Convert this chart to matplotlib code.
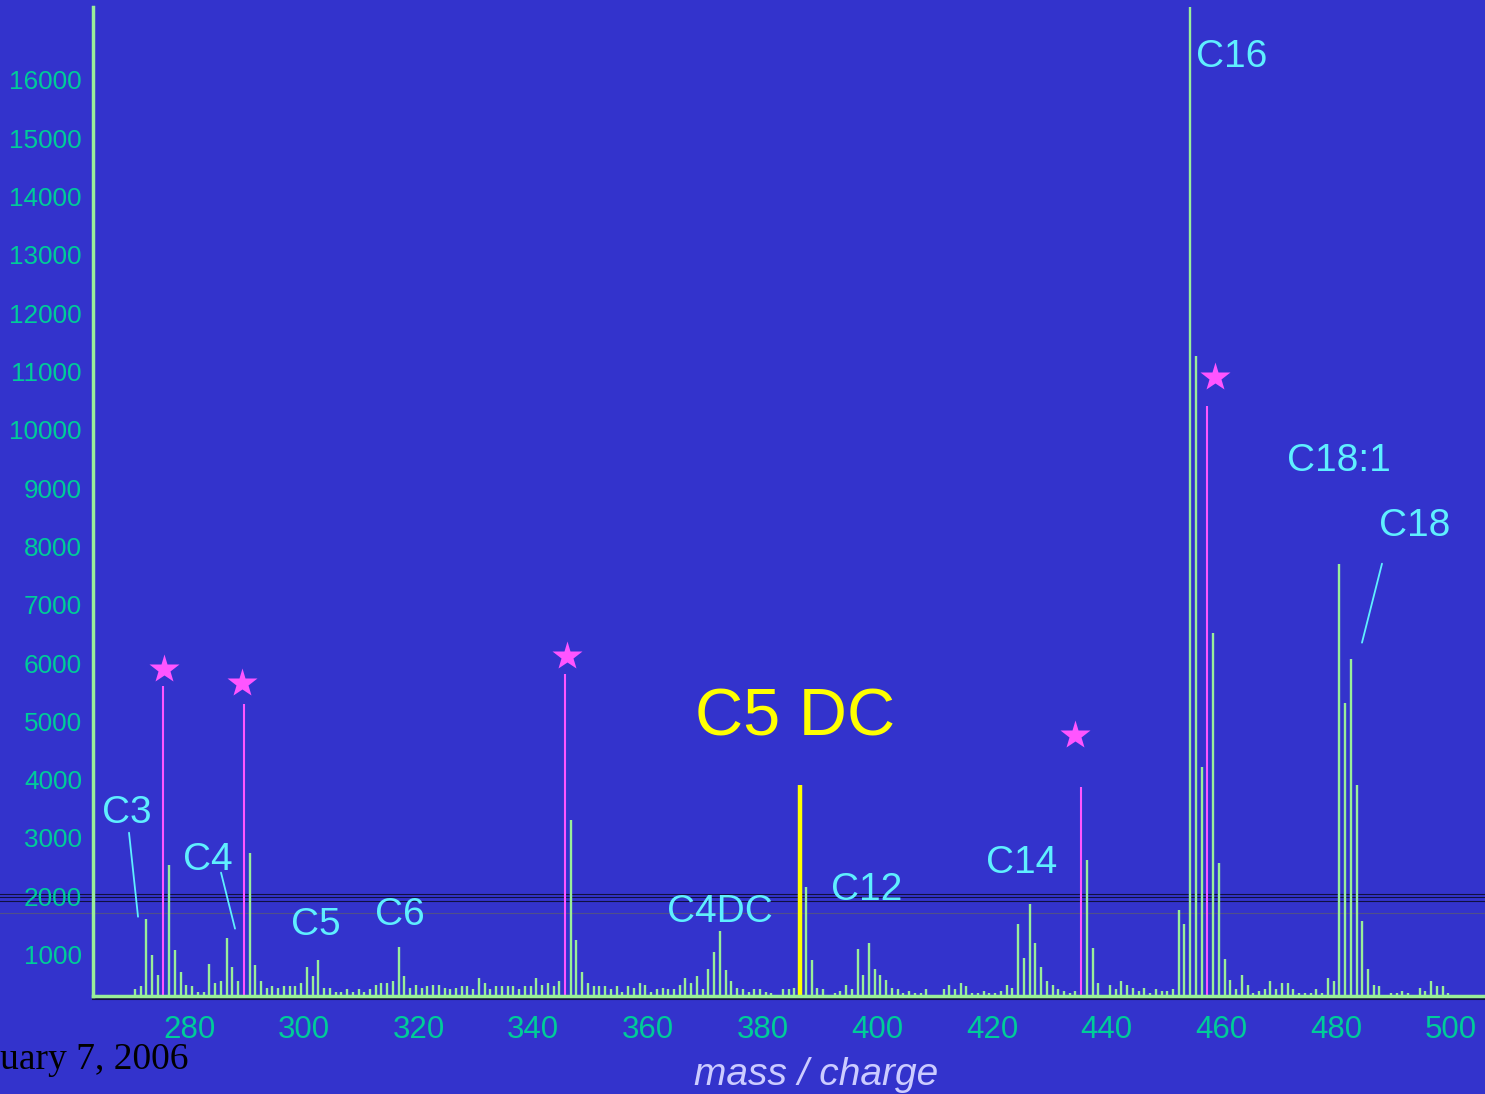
import numpy as np
import matplotlib
matplotlib.use("Agg")
import matplotlib.pyplot as plt
from matplotlib.lines import Line2D

# nominal masses, one peak per unit from 270 to 499
masses = np.arange(270, 500)
intensity = [
    415, 460, 1603, 986, 650, 5614, 2545, 1077, 706, 483,      # 270-279
    460, 363, 363, 843, 511, 540, 1289, 792, 540, 5305,        # 280-289
    2751, 820, 540, 432, 460, 432, 460, 460, 460, 511,         # 290-299
    792, 626, 900, 432, 432, 363, 363, 403, 363, 403,          # 300-309
    363, 403, 483, 511, 511, 540, 1123, 626, 432, 483,         # 310-319
    432, 460, 483, 483, 432, 403, 432, 460, 460, 403,          # 320-329
    597, 511, 403, 460, 460, 460, 460, 403, 460, 460,          # 330-339
    597, 483, 511, 460, 540, 5820, 3300, 1255, 706, 511,       # 340-349
    460, 460, 460, 403, 460, 363, 460, 432, 511, 483,          # 350-359
    363, 403, 432, 403, 403, 483, 597, 511, 626, 403,          # 360-369
    751, 1037, 1397, 734, 540, 432, 403, 363, 403, 403,        # 370-379
    363, 346, 305, 409, 403, 432, 3900, 2160, 900, 432,        # 380-389
    403, 305, 346, 380, 483, 403, 1094, 648, 1203, 751,        # 390-399
    648, 569, 432, 403, 346, 380, 346, 346, 403, 305,          # 400-409
    305, 403, 483, 403, 511, 460, 346, 346, 380, 346,          # 410-419
    346, 380, 483, 432, 1523, 951, 1871, 1203, 785, 540,       # 420-429
    483, 403, 380, 346, 380, 3880, 2631, 1117, 511, 305,       # 430-439
    483, 403, 540, 483, 432, 380, 432, 346, 403, 380,          # 440-449
    380, 403, 1763, 1523, 17500, 11270, 4225, 10400, 6520, 2563,  # 450-459
    929, 569, 403, 648, 483, 346, 380, 403, 540, 403,          # 460-469
    511, 511, 403, 346, 346, 346, 403, 346, 597, 540,          # 470-479
    7705, 5322, 6077, 3917, 1574, 751, 483, 460, 305, 346,     # 480-489
    346, 380, 346, 305, 432, 380, 540, 460, 460, 346,          # 490-499
]
mass_shift = 0.55          # measured mass sits about half a unit above nominal
standards = [275, 289, 345, 435, 457]   # internal standards (starred)
highlight = [386]                        # C5 DC

labels = ["C3", "C4", "C5", "C6", "C4DC", "C12", "C14", "C16", "C18:1", "C18"]
label_x = [264.9, 279.0, 297.7, 312.5, 363.4, 392.0, 419.0, 455.5, 471.35, 487.4]
label_y = [3250, 2445, 1330, 1500, 1555, 1930, 2395, 16210, 9285, 8170]

star_x = [275.64, 289.24, 345.90, 434.46, 458.87]
star_y = [5902, 5662, 6125, 4771, 10908]

bg = "#3333CC"
green = "#99EE99"
tickc = "#00CC99"
cyan = "#5FEFFF"
magenta = "#FF55FF"
yellow = "#FFFF00"

fig = plt.figure(figsize=(14.85, 10.94), dpi=100, facecolor=bg)
ax = fig.add_axes([93 / 1485, 98 / 1094, 1390 / 1485, 989 / 1094])
ax.set_facecolor("none")

ybot, ytop = 291, 17247
ax.set_xlim(263.26, 505.6)
ax.set_ylim(ybot, ytop)

x = masses + mass_shift
h = np.array(intensity)
std = np.isin(masses, standards)
hil = np.isin(masses, highlight)
normal = ~(std | hil)
ax.vlines(x[normal], ybot, h[normal], color=green, lw=1.7, zorder=3)
ax.vlines(x[std], ybot, h[std], color=magenta, lw=1.5, zorder=3)
ax.vlines(x[hil], ybot, h[hil], color=yellow, lw=3.2, zorder=3)

ax.plot(star_x, star_y, ls="none", marker="*", ms=22, color=magenta, mec="none", zorder=4)

for t, lx, ly in zip(labels, label_x, label_y):
    ax.text(lx, ly, t, color=cyan, fontsize=28, family="Liberation Sans",
            ha="left", va="baseline", zorder=5)
ax.text(368.3, 4750, "C5 DC", color=yellow, fontsize=48, family="Liberation Sans",
        ha="left", va="baseline", zorder=5)

# pointer lines
for (x0, y0), (x1, y1) in [((269.54, 3090), (271.11, 1650)),
                           ((285.58, 2406), (288.02, 1446)),
                           ((487.99, 7703), (484.50, 6349))]:
    ax.annotate("", xy=(x1, y1), xytext=(x0, y0),
                arrowprops=dict(arrowstyle="-", color=cyan, lw=1.3, shrinkA=0, shrinkB=0))

ax.set_xticks(np.arange(280, 501, 20))
ax.set_yticks(np.arange(1000, 16001, 1000))
ax.tick_params(axis="x", length=0, pad=14, labelsize=22.5, labelcolor=tickc)
ax.tick_params(axis="y", length=0, pad=8, labelsize=18.8, labelcolor=tickc)
for lab in ax.get_xticklabels() + ax.get_yticklabels():
    lab.set_family("Liberation Sans")

for s in ["top", "right"]:
    ax.spines[s].set_visible(False)
for s in ["left", "bottom"]:
    ax.spines[s].set_color(green)
    ax.spines[s].set_linewidth(2.5)
    ax.spines[s].set_zorder(4)

# scan-line artefacts across the slide
for yy, c in [(894.3, "#101040"), (897.3, "#101040"), (901.0, "#101040"), (913.3, "#50508a")]:
    fig.add_artist(Line2D([0, 1], [1 - yy / 1094] * 2, color=c, lw=0.8, zorder=-1))
fig.add_artist(Line2D([93 / 1485, 1], [1 - 998.5 / 1094] * 2, color="#101040", lw=1.5, zorder=-1))

fig.text(816 / 1485, 1 - 1075 / 1094, "mass / charge", color="#CCCCFF", fontsize=28,
         style="italic", family="Liberation Sans", ha="center", va="center")
fig.text(0, 1 - 1069 / 1094, "uary 7, 2006", color="black", fontsize=27,
         family="Liberation Serif", ha="left", va="baseline")

fig.savefig("out.png", dpi=100, facecolor=bg)
